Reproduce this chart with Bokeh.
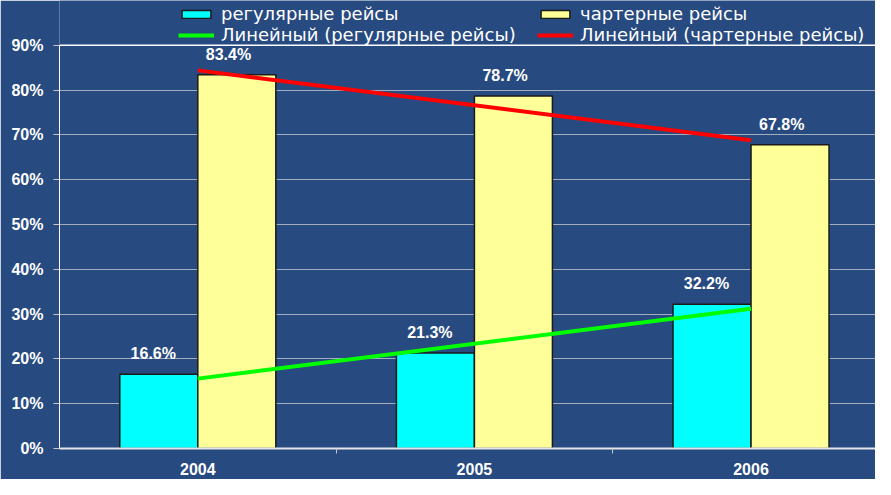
from bokeh.plotting import figure
from bokeh.models import (ColumnDataSource, LabelSet, Legend, LegendItem, FixedTicker,
                          PrintfTickFormatter, Span, Range1d)
from bokeh.transform import dodge
from bokeh.embed import file_html
from bokeh.resources import INLINE
from bokeh.core.properties import value

# ---- data ----
years = ["2004", "2005", "2006"]
regular = [16.6, 21.3, 32.2]          # регулярные рейсы, %
charter = [83.4, 78.7, 67.8]          # чартерные рейсы, %
regular_labels = ["16.6%", "21.3%", "32.2%"]
charter_labels = ["83.4%", "78.7%", "67.8%"]
trend_years_idx = [0, 2]
trend_regular = [15.6, 31.2]          # Линейный (регулярные рейсы)
trend_charter = [84.4, 68.8]          # Линейный (чартерные рейсы)
y_ticks = [0, 10, 20, 30, 40, 50, 60, 70, 80, 90]

idx = list(range(len(years)))
src = ColumnDataSource(dict(x=idx, regular=regular, charter=charter,
                            rl=regular_labels, cl=charter_labels))
tr_src = ColumnDataSource(dict(x=trend_years_idx, reg=trend_regular, ch=trend_charter))

BG = "#274a80"
p = figure(width=875, height=479, output_backend="svg", toolbar_location=None,
           x_range=Range1d(-0.5, 2.45), y_range=Range1d(0, 100),
           min_border_left=59, min_border_right=0, min_border_top=0, min_border_bottom=31,
           background_fill_color=BG, border_fill_color=BG, outline_line_color=None)

BW = 0.282
r_reg = p.vbar(x=dodge("x", -BW / 2, range=p.x_range), top="regular", width=BW, source=src,
               fill_color="#00ffff", line_color="#1a1a1a", line_width=1.5)
r_ch = p.vbar(x=dodge("x", BW / 2, range=p.x_range), top="charter", width=BW, source=src,
              fill_color="#ffff99", line_color="#1a1a1a", line_width=1.5)

l_reg = p.line(x="x", y="reg", source=tr_src, line_color="#00ff00", line_width=4)
l_ch = p.line(x="x", y="ch", source=tr_src, line_color="#ff0000", line_width=4)

lab_font = dict(text_color="white", text_font=value("Liberation Sans"), text_font_style="bold",
                text_font_size="16px", text_align="center", text_baseline="bottom")
p.add_layout(LabelSet(x=dodge("x", -BW / 2 - 0.02, range=p.x_range), y="regular", text="rl",
                      source=src, y_offset=12, **lab_font))
p.add_layout(LabelSet(x=dodge("x", BW / 2 - 0.03, range=p.x_range), y="charter", text="cl",
                      source=src, y_offset=12, **lab_font))

# grid / axes
p.xgrid.grid_line_color = None
p.ygrid.ticker = FixedTicker(ticks=y_ticks)
p.ygrid.grid_line_color = "#a3adbd"
p.ygrid.grid_line_width = 1
p.add_layout(Span(location=y_ticks[-1], dimension="width", line_color="white", line_width=1.5))

p.yaxis.ticker = FixedTicker(ticks=y_ticks)
p.yaxis.bounds = (y_ticks[0], y_ticks[-1])
p.yaxis.formatter = PrintfTickFormatter(format="%d%%")
p.yaxis.axis_line_color = "white"
p.yaxis.major_tick_line_color = "#c8c8c8"
p.yaxis.major_tick_out = 6
p.yaxis.major_tick_in = 0
p.yaxis.minor_tick_line_color = None
p.yaxis.major_label_text_color = "white"
p.yaxis.major_label_text_font = "Liberation Sans"
p.yaxis.major_label_text_font_style = "bold"
p.yaxis.major_label_text_font_size = "16px"
p.yaxis.major_label_standoff = 10

p.xaxis.ticker = FixedTicker(ticks=idx, minor_ticks=[0.5, 1.5])
p.xaxis.major_label_overrides = {i: y for i, y in zip(idx, years)}
p.xaxis.axis_line_color = "#e6e6e6"
p.xaxis.axis_line_width = 2
p.xaxis.major_tick_line_color = None
p.xaxis.major_tick_out = 0
p.xaxis.minor_tick_line_color = "#c8c8c8"
p.xaxis.minor_tick_out = 5
p.xaxis.minor_tick_in = 0
p.xaxis.major_label_text_color = "white"
p.xaxis.major_label_text_font = "Liberation Sans"
p.xaxis.major_label_text_font_style = "bold"
p.xaxis.major_label_text_font_size = "16px"
p.xaxis.major_label_standoff = 9

legend = Legend(items=[
    LegendItem(label="регулярные рейсы", renderers=[r_reg]),
    LegendItem(label="Линейный (регулярные рейсы)", renderers=[l_reg]),
    LegendItem(label="чартерные рейсы", renderers=[r_ch]),
    LegendItem(label="Линейный (чартерные рейсы)", renderers=[l_ch]),
], orientation="vertical", nrows=2, location=(119, 403),
    background_fill_alpha=0, border_line_color=None, padding=0, margin=0, spacing=0,
    glyph_width=36, glyph_height=10, label_standoff=7, label_height=17, label_width=316,
    label_text_color="white", label_text_font="DejaVu Sans", label_text_font_size="18px")
p.add_layout(legend)

open("out.html", "w").write(file_html(p, INLINE))
